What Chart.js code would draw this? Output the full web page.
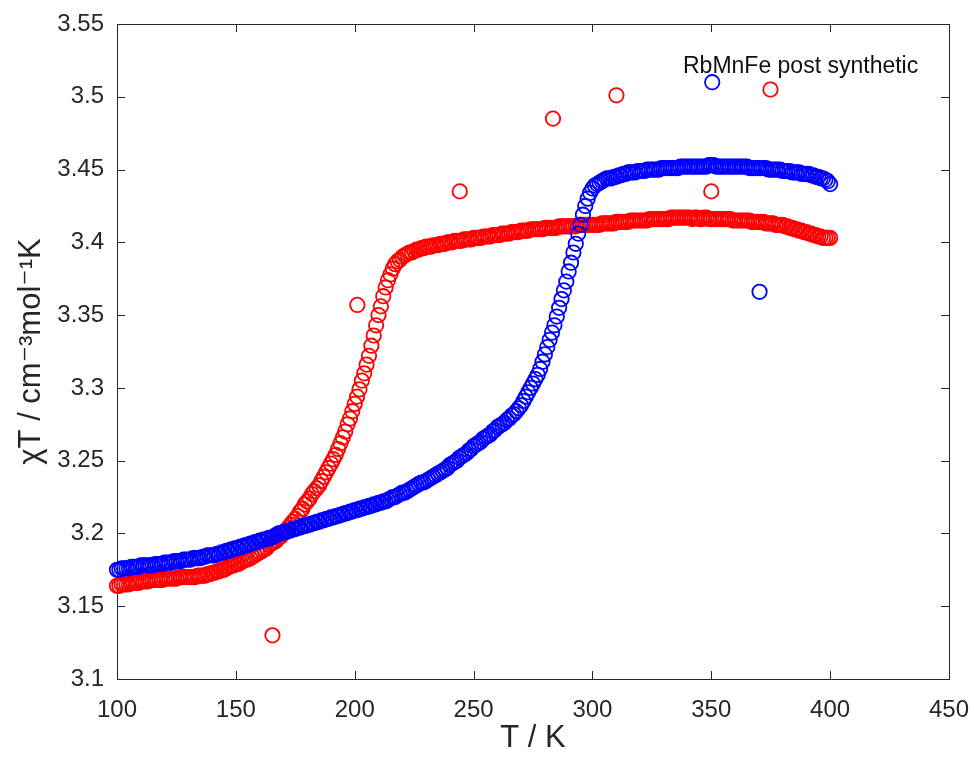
<!DOCTYPE html>
<html>
<head>
<meta charset="utf-8">
<title>RbMnFe post synthetic</title>
<script src="https://cdn.jsdelivr.net/npm/chart.js@4.4.1/dist/chart.umd.min.js"></script>
<style>
  html, body { margin: 0; padding: 0; background: #fff; }
  #chart { display: block; }
</style>
</head>
<body>
<canvas id="chart" width="974" height="759"></canvas>
<script>
/* =========================================================
   chi*T vs T — two runs (red / blue), open circle markers
   ========================================================= */

// axis ticks
const xTicks = [100, 150, 200, 250, 300, 350, 400, 450];
const yTicks = [3.1, 3.15, 3.2, 3.25, 3.3, 3.35, 3.4, 3.45, 3.5, 3.55];

// temperature grid shared by both runs (K)
const temps = [
  100, 101, 102, 103, 104, 105, 106, 107, 108, 109,
  110, 111, 112, 113, 114, 115, 116, 117, 118, 119,
  120, 121, 122, 123, 124, 125, 126, 127, 128, 129,
  130, 131, 132, 133, 134, 135, 136, 137, 138, 139,
  140, 141, 142, 143, 144, 145, 146, 147, 148, 149,
  150, 151, 152, 153, 154, 155, 156, 157, 158, 159,
  160, 161, 162, 163, 164, 165, 166, 167, 168, 169,
  170, 171, 172, 173, 174, 175, 176, 177, 178, 179,
  180, 181, 182, 183, 184, 185, 186, 187, 188, 189,
  190, 191, 192, 193, 194, 195, 196, 197, 198, 199,
  200, 201, 202, 203, 204, 205, 206, 207, 208, 209,
  210, 211, 212, 213, 214, 215, 216, 217, 218, 219,
  220, 221, 222, 223, 224, 225, 226, 227, 228, 229,
  230, 231, 232, 233, 234, 235, 236, 237, 238, 239,
  240, 241, 242, 243, 244, 245, 246, 247, 248, 249,
  250, 251, 252, 253, 254, 255, 256, 257, 258, 259,
  260, 261, 262, 263, 264, 265, 266, 267, 268, 269,
  270, 271, 272, 273, 274, 275, 276, 277, 278, 279,
  280, 281, 282, 283, 284, 285, 286, 287, 288, 289,
  290, 291, 292, 293, 294, 295, 296, 297, 298, 299,
  300, 301, 302, 303, 304, 305, 306, 307, 308, 309,
  310, 311, 312, 313, 314, 315, 316, 317, 318, 319,
  320, 321, 322, 323, 324, 325, 326, 327, 328, 329,
  330, 331, 332, 333, 334, 335, 336, 337, 338, 339,
  340, 341, 342, 343, 344, 345, 346, 347, 348, 349,
  350, 351, 352, 353, 354, 355, 356, 357, 358, 359,
  360, 361, 362, 363, 364, 365, 366, 367, 368, 369,
  370, 371, 372, 373, 374, 375, 376, 377, 378, 379,
  380, 381, 382, 383, 384, 385, 386, 387, 388, 389,
  390, 391, 392, 393, 394, 395, 396, 397, 398, 399,
  400
];

// red run, chi*T (cm3 mol-1 K)
const redChi = [
  3.164, 3.164, 3.165, 3.165, 3.165, 3.165, 3.166, 3.166, 3.166, 3.166,
  3.167, 3.167, 3.167, 3.167, 3.168, 3.168, 3.168, 3.168, 3.168, 3.168,
  3.169, 3.169, 3.169, 3.169, 3.169, 3.169, 3.170, 3.170, 3.170, 3.170,
  3.170, 3.170, 3.170, 3.170, 3.171, 3.171, 3.171, 3.171, 3.172, 3.172,
  3.173, 3.173, 3.174, 3.174, 3.175, 3.175, 3.176, 3.177, 3.178, 3.178,
  3.179, 3.179, 3.180, 3.181, 3.182, 3.182, 3.183, 3.184, 3.185, 3.186,
  3.187, 3.188, 3.189, 3.190, 3.192, 3.193, 3.194, 3.195, 3.197, 3.198,
  3.200, 3.202, 3.204, 3.206, 3.208, 3.210, 3.212, 3.215, 3.217, 3.220,
  3.222, 3.224, 3.227, 3.229, 3.231, 3.233, 3.236, 3.239, 3.242, 3.245,
  3.248, 3.251, 3.254, 3.258, 3.262, 3.266, 3.270, 3.275, 3.279, 3.284,
  3.289, 3.294, 3.299, 3.305, 3.310, 3.316, 3.322, 3.329, 3.336, 3.343,
  3.350, 3.356, 3.363, 3.369, 3.374, 3.378, 3.382, 3.385, 3.387, 3.388,
  3.390, 3.391, 3.392, 3.393, 3.393, 3.394, 3.395, 3.395, 3.396, 3.396,
  3.397, 3.397, 3.397, 3.398, 3.398, 3.398, 3.399, 3.399, 3.399, 3.400,
  3.400, 3.400, 3.401, 3.401, 3.401, 3.401, 3.402, 3.402, 3.402, 3.402,
  3.403, 3.403, 3.403, 3.403, 3.404, 3.404, 3.404, 3.404, 3.405, 3.405,
  3.405, 3.405, 3.406, 3.406, 3.406, 3.406, 3.407, 3.407, 3.407, 3.407,
  3.408, 3.408, 3.408, 3.408, 3.409, 3.409, 3.409, 3.409, 3.409, 3.409,
  3.410, 3.410, 3.410, 3.410, 3.410, 3.410, 3.411, 3.411, 3.411, 3.411,
  3.411, 3.411, 3.411, 3.411, 3.412, 3.412, 3.412, 3.412, 3.412, 3.412,
  3.412, 3.412, 3.412, 3.412, 3.413, 3.413, 3.413, 3.413, 3.413, 3.413,
  3.414, 3.414, 3.414, 3.414, 3.414, 3.414, 3.415, 3.415, 3.415, 3.415,
  3.415, 3.415, 3.415, 3.415, 3.416, 3.416, 3.416, 3.416, 3.416, 3.416,
  3.416, 3.416, 3.416, 3.417, 3.417, 3.417, 3.417, 3.417, 3.417, 3.417,
  3.417, 3.417, 3.416, 3.417, 3.417, 3.416, 3.416, 3.417, 3.417, 3.416,
  3.416, 3.416, 3.416, 3.416, 3.416, 3.416, 3.416, 3.416, 3.416, 3.415,
  3.415, 3.415, 3.415, 3.415, 3.415, 3.415, 3.415, 3.414, 3.414, 3.414,
  3.414, 3.414, 3.414, 3.413, 3.413, 3.413, 3.413, 3.412, 3.412, 3.412,
  3.412, 3.411, 3.411, 3.410, 3.410, 3.409, 3.409, 3.408, 3.408, 3.407,
  3.407, 3.406, 3.406, 3.405, 3.405, 3.404, 3.404, 3.403, 3.403, 3.403,
  3.403
];

// blue run, chi*T (cm3 mol-1 K)
const blueChi = [
  3.175, 3.175, 3.176, 3.176, 3.176, 3.176, 3.177, 3.177, 3.177, 3.177,
  3.178, 3.178, 3.178, 3.178, 3.178, 3.178, 3.179, 3.179, 3.179, 3.179,
  3.180, 3.180, 3.180, 3.180, 3.181, 3.181, 3.181, 3.181, 3.182, 3.182,
  3.182, 3.182, 3.183, 3.183, 3.183, 3.183, 3.184, 3.184, 3.185, 3.185,
  3.185, 3.185, 3.186, 3.186, 3.187, 3.187, 3.188, 3.188, 3.189, 3.189,
  3.190, 3.190, 3.191, 3.191, 3.192, 3.192, 3.193, 3.193, 3.194, 3.194,
  3.195, 3.195, 3.196, 3.196, 3.197, 3.197, 3.198, 3.199, 3.200, 3.200,
  3.201, 3.201, 3.202, 3.202, 3.203, 3.203, 3.204, 3.204, 3.205, 3.205,
  3.206, 3.206, 3.207, 3.207, 3.208, 3.208, 3.209, 3.209, 3.210, 3.210,
  3.211, 3.211, 3.212, 3.212, 3.213, 3.213, 3.214, 3.214, 3.215, 3.215,
  3.216, 3.216, 3.217, 3.217, 3.218, 3.218, 3.219, 3.219, 3.220, 3.220,
  3.221, 3.221, 3.222, 3.222, 3.223, 3.224, 3.225, 3.225, 3.226, 3.227,
  3.228, 3.228, 3.229, 3.230, 3.231, 3.232, 3.233, 3.234, 3.235, 3.235,
  3.236, 3.237, 3.238, 3.239, 3.240, 3.241, 3.242, 3.243, 3.244, 3.245,
  3.247, 3.248, 3.249, 3.250, 3.252, 3.253, 3.254, 3.255, 3.257, 3.258,
  3.260, 3.261, 3.262, 3.263, 3.265, 3.266, 3.267, 3.268, 3.270, 3.271,
  3.273, 3.274, 3.275, 3.276, 3.278, 3.279, 3.281, 3.282, 3.284, 3.286,
  3.288, 3.291, 3.294, 3.297, 3.300, 3.303, 3.306, 3.309, 3.313, 3.318,
  3.323, 3.328, 3.333, 3.338, 3.343, 3.349, 3.355, 3.361, 3.367, 3.373,
  3.380, 3.386, 3.393, 3.399, 3.406, 3.412, 3.419, 3.425, 3.430, 3.434,
  3.437, 3.439, 3.440, 3.441, 3.442, 3.443, 3.444, 3.444, 3.444, 3.445,
  3.445, 3.446, 3.446, 3.447, 3.447, 3.448, 3.448, 3.448, 3.448, 3.449,
  3.449, 3.449, 3.449, 3.450, 3.450, 3.450, 3.450, 3.450, 3.450, 3.451,
  3.451, 3.451, 3.451, 3.451, 3.451, 3.451, 3.451, 3.452, 3.452, 3.452,
  3.452, 3.452, 3.452, 3.452, 3.452, 3.452, 3.452, 3.452, 3.452, 3.453,
  3.453, 3.453, 3.452, 3.452, 3.452, 3.452, 3.452, 3.452, 3.452, 3.452,
  3.452, 3.452, 3.452, 3.452, 3.452, 3.452, 3.451, 3.451, 3.451, 3.451,
  3.451, 3.451, 3.451, 3.451, 3.450, 3.450, 3.450, 3.450, 3.450, 3.450,
  3.449, 3.449, 3.449, 3.449, 3.448, 3.448, 3.448, 3.448, 3.447, 3.447,
  3.447, 3.447, 3.446, 3.446, 3.445, 3.445, 3.444, 3.444, 3.443, 3.442,
  3.440
];

// stray points off the curves
const redExtraT = [165.4, 201.1, 244.2, 283.4, 310.1, 350.0, 374.9];
const redExtraChi = [3.130, 3.357, 3.435, 3.485, 3.501, 3.435, 3.505];
const blueExtraT = [350.4, 370.3];
const blueExtraChi = [3.510, 3.366];

const annotation = 'RbMnFe post synthetic';

const INK = '#262626';
const FONT = "'Liberation Sans', Arial, 'DejaVu Sans', sans-serif";

function toPoints(ts, vs) {
  return ts.map((t, i) => ({ x: t, y: vs[i] }));
}

/** MATLAB-like box with inward ticks on all four sides */
const boxFrame = {
  id: 'boxFrame',
  beforeDatasetsDraw(chart) {
    const { ctx, chartArea: a, scales: { x, y } } = chart;
    const len = 8;
    ctx.save();
    ctx.strokeStyle = INK;
    ctx.lineWidth = 1;
    ctx.strokeRect(Math.round(a.left) + 0.5, Math.round(a.top) + 0.5,
      Math.round(a.width), Math.round(a.height));
    ctx.beginPath();
    xTicks.forEach(v => {
      const px = Math.round(x.getPixelForValue(v)) + 0.5;
      ctx.moveTo(px, a.bottom); ctx.lineTo(px, a.bottom - len);
      ctx.moveTo(px, a.top); ctx.lineTo(px, a.top + len);
    });
    yTicks.forEach(v => {
      const py = Math.round(y.getPixelForValue(v)) + 0.5;
      ctx.moveTo(a.left, py); ctx.lineTo(a.left + len, py);
      ctx.moveTo(a.right, py); ctx.lineTo(a.right - len, py);
    });
    ctx.stroke();
    ctx.restore();
  }
};

/** text label inside the axes, top right */
const cornerLabel = {
  id: 'cornerLabel',
  afterDraw(chart) {
    const { ctx, chartArea: a } = chart;
    ctx.save();
    ctx.fillStyle = '#111';
    ctx.font = '23px ' + FONT;
    ctx.textAlign = 'left';
    ctx.textBaseline = 'alphabetic';
    ctx.fillText(annotation, a.right - 266, a.top + 49);
    ctx.restore();
  }
};

const markerStyle = {
  showLine: false,
  pointStyle: 'circle',
  pointRadius: 7.2,
  pointHoverRadius: 7.2,
  pointBorderWidth: 1.8,
  pointBackgroundColor: 'rgba(0,0,0,0)',
  clip: false
};

new Chart(document.getElementById('chart'), {
  type: 'scatter',
  data: {
    datasets: [
      Object.assign({
        label: 'blue',
        data: toPoints(temps, blueChi).concat(toPoints(blueExtraT, blueExtraChi)),
        borderColor: '#0000ff',
        pointBorderColor: '#0000ff'
      }, markerStyle),
      Object.assign({
        label: 'red',
        data: toPoints(temps, redChi).concat(toPoints(redExtraT, redExtraChi)),
        borderColor: '#ff0000',
        pointBorderColor: '#ff0000'
      }, markerStyle)
    ]
  },
  options: {
    responsive: false,
    animation: false,
    events: [],
    layout: { padding: { top: 24, right: 25, left: 0, bottom: 0 } },
    plugins: {
      legend: { display: false },
      tooltip: { enabled: false }
    },
    scales: {
      x: {
        type: 'linear',
        min: 100,
        max: 450,
        afterBuildTicks: s => { s.ticks = xTicks.map(v => ({ value: v })); },
        afterFit: s => {
          s.height = 80;
          s.paddingLeft = 0;
          s.paddingRight = 0;
        },
        grid: { display: false, drawTicks: false },
        border: { display: false },
        ticks: {
          color: INK,
          padding: 17,
          maxRotation: 0,
          autoSkip: false,
          font: { family: FONT, size: 24 },
          callback: v => String(v)
        },
        title: {
          display: true,
          text: 'T / K',
          color: INK,
          padding: { top: 0, bottom: 2 },
          font: { family: FONT, size: 31 }
        }
      },
      y: {
        type: 'linear',
        min: 3.1,
        max: 3.55,
        afterBuildTicks: s => { s.ticks = yTicks.map(v => ({ value: v })); },
        afterFit: s => {
          s.width = 117;
          s.paddingTop = 0;
          s.paddingBottom = 0;
        },
        grid: { display: false, drawTicks: false },
        border: { display: false },
        ticks: {
          color: INK,
          padding: 13,
          autoSkip: false,
          font: { family: FONT, size: 24 },
          callback: v => String(Math.round(v * 100) / 100)
        },
        title: {
          display: true,
          text: 'χT / cm⁻³mol⁻¹K',
          color: INK,
          padding: { top: 13, bottom: 0 },
          font: { family: FONT, size: 31 }
        }
      }
    }
  },
  plugins: [boxFrame, cornerLabel]
});
</script>
</body>
</html>
